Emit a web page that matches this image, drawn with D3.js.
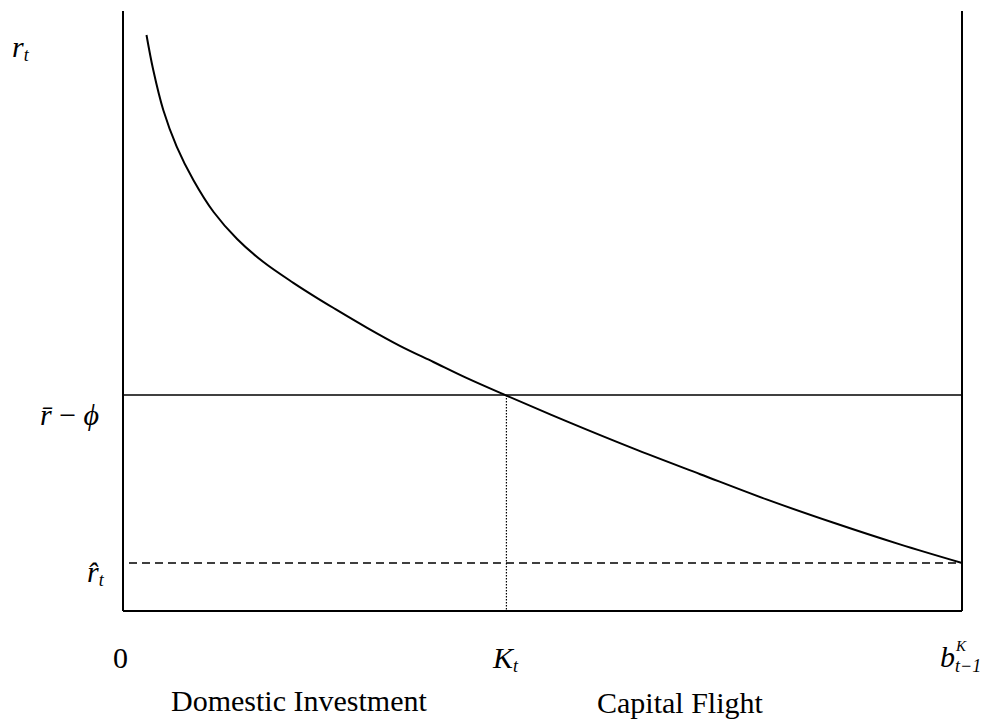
<!DOCTYPE html>
<html>
<head>
<meta charset="utf-8">
<script src="https://cdn.jsdelivr.net/npm/d3@7"></script>
<style>
  body { margin: 0; background: #fff; }
  svg text { font-family: "Liberation Serif", "DejaVu Serif", "Times New Roman", Times, serif; fill: #000; }
</style>
</head>
<body>
<div id="chart-area"></div>
<script>
const MARGIN = { LEFT: 123, RIGHT: 23, TOP: 11, BOTTOM: 116 }
const WIDTH = 985 - MARGIN.LEFT - MARGIN.RIGHT
const HEIGHT = 727 - MARGIN.TOP - MARGIN.BOTTOM

// demand curve for domestic capital
const curveX = [2.8, 3.6, 4.8, 6.4, 8.4, 10.8, 13.6, 16.7, 20.3, 23.1, 25.1, 29.1, 33.0, 37.0, 41.0, 45.7, 52.9, 60.8, 68.8, 76.7, 84.7, 92.6, 100]
const curveY = [96.0, 90.2, 83.5, 77.4, 71.8, 66.5, 62.0, 58.2, 54.7, 52.2, 50.5, 47.2, 44.2, 41.5, 38.8, 35.9, 31.6, 27.1, 22.8, 18.6, 14.7, 11.1, 8.0]

const rBarPhi = 36      // world rate net of cost
const rHat = 8          // autarky rate
const kT = 45.7         // domestic investment
const bMax = 100        // total capital

const svg = d3.select("#chart-area").append("svg")
  .attr("width", 985)
  .attr("height", 727)
  .attr("font-family", "'Liberation Serif', 'DejaVu Serif', serif")

const g = svg.append("g")
  .attr("transform", `translate(${MARGIN.LEFT}, ${MARGIN.TOP})`)

const x = d3.scaleLinear().domain([0, bMax]).range([0, WIDTH])
const y = d3.scaleLinear().domain([0, 100]).range([HEIGHT, 0])

const line = d3.line().x(d => x(d[0])).y(d => y(d[1])).curve(d3.curveCatmullRom.alpha(0.5))

// frame: left axis, right axis, bottom
g.append("line").attr("x1", x(0)).attr("x2", x(0)).attr("y1", y(100)).attr("y2", y(0))
  .attr("stroke", "#000").attr("stroke-width", 2)
g.append("line").attr("x1", x(bMax)).attr("x2", x(bMax)).attr("y1", y(100)).attr("y2", y(0))
  .attr("stroke", "#000").attr("stroke-width", 2)
g.append("line").attr("x1", x(0)).attr("x2", x(bMax)).attr("y1", y(0)).attr("y2", y(0))
  .attr("stroke", "#000").attr("stroke-width", 2)

// r bar - phi
g.append("line").attr("x1", x(0)).attr("x2", x(bMax)).attr("y1", y(rBarPhi)).attr("y2", y(rBarPhi))
  .attr("stroke", "#000").attr("stroke-width", 1.6)

// r hat (dashed)
g.append("line").attr("x1", x(0) + 6).attr("x2", x(bMax)).attr("y1", y(rHat)).attr("y2", y(rHat))
  .attr("stroke", "#000").attr("stroke-width", 1.5).attr("stroke-dasharray", "8,5")

// K_t (dotted)
g.append("line").attr("x1", x(kT)).attr("x2", x(kT)).attr("y1", y(rBarPhi)).attr("y2", y(0))
  .attr("stroke", "#000").attr("stroke-width", 1.2).attr("stroke-dasharray", "1.5,1.5")

g.append("path")
  .attr("d", line(d3.zip(curveX, curveY)))
  .attr("fill", "none").attr("stroke", "#000").attr("stroke-width", 2)

// labels
const SIZE = 30
const SMALL = 18

function sym(px, py, main, sub, sup) {
  const t = svg.append("text").attr("x", px).attr("y", py)
    .attr("font-size", SIZE).attr("font-style", "italic")
  t.append("tspan").text(main)
  const end = px + t.node().getComputedTextLength()
  if (sup) {
    svg.append("text").attr("x", end + 1).attr("y", py - 16)
      .attr("font-size", 15).attr("font-style", "italic").text(sup)
  }
  if (sub) {
    svg.append("text").attr("x", end).attr("y", py + (sup ? 5 : 4))
      .attr("font-size", SMALL).attr("font-style", "italic").text(sub)
  }
}

sym(12, 57, "r", "t")
sym(87, 582, "r\u0302", "t")
sym(493, 668, "K", "t")
sym(940, 667, "b", "t\u22121", "K")

svg.append("text").attr("x", 40).attr("y", 425).attr("font-size", SIZE)
  .html('<tspan font-style="italic">r\u0304</tspan> \u2212 <tspan font-style="italic">\u03d5</tspan>')

svg.append("text").attr("x", 113).attr("y", 668).attr("font-size", SIZE).text("0")

svg.append("text").attr("x", 171).attr("y", 711).attr("font-size", SIZE).text("Domestic Investment")
svg.append("text").attr("x", 597).attr("y", 713).attr("font-size", SIZE).text("Capital Flight")
</script>
</body>
</html>
